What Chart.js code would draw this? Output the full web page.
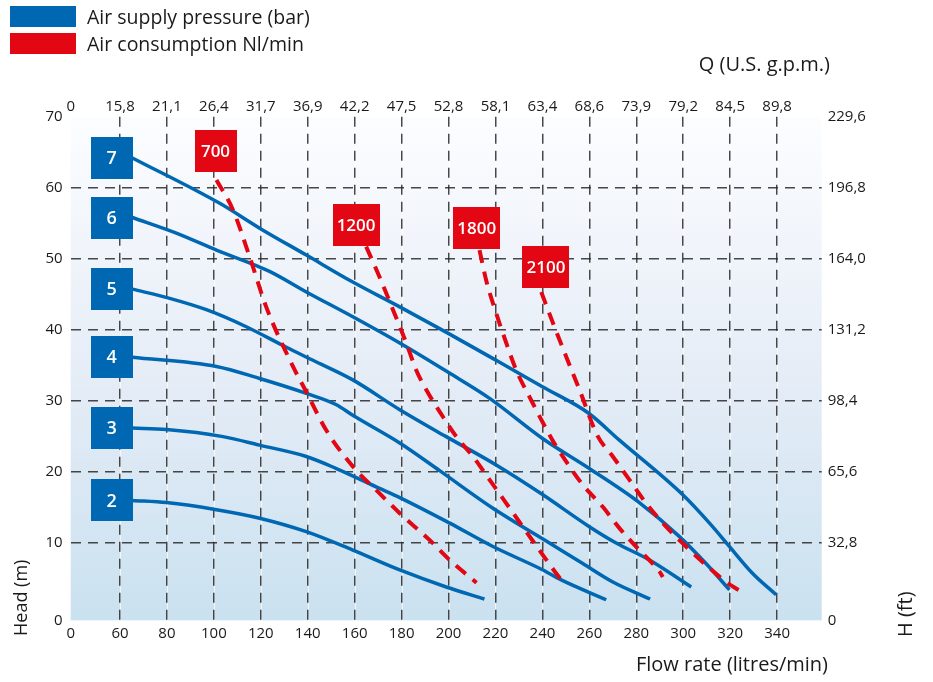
<!DOCTYPE html>
<html>
<head>
<meta charset="utf-8">
<script src="https://cdn.jsdelivr.net/npm/chart.js@4"></script>
<style>
  body { margin: 0; background: #fff; font-family: 'Open Sans', sans-serif; }
  #wrap { position: relative; width: 933px; height: 682px; }
  .key { position: absolute; left: 10px; height: 21px; display: flex; align-items: center; }
  .key span.sw { width: 66px; height: 21px; display: inline-block; }
  .key span.tx { margin-left: 11px; font-size: 19.5px; color: #1a1a1a; white-space: nowrap; }
</style>
</head>
<body>
<div id="wrap">
  <div class="key" style="top:6px"><span class="sw" style="background:#0068b3"></span><span class="tx">Air supply pressure (bar)</span></div>
  <div class="key" style="top:33px"><span class="sw" style="background:#e30613"></span><span class="tx">Air consumption Nl/min</span></div>
  <canvas id="myChart" width="933" height="682"></canvas>
</div>
<script>
// axis ticks
const flowTicks = [60, 80, 100, 120, 140, 160, 180, 200, 220, 240, 260, 280, 300, 320, 340];
const gpmLabels = ['15,8', '21,1', '26,4', '31,7', '36,9', '42,2', '47,5', '52,8', '58,1', '63,4', '68,6', '73,9', '79,2', '84,5', '89,8'];
const headTicks = [10, 20, 30, 40, 50, 60, 70];
const ftLabels = ['32,8', '65,6', '98,4', '131,2', '164,0', '196,8', '229,6'];

// air supply pressure curves (bar), flow l/min vs head m
const bar7Flow = [65.3, 102.5, 119.5, 139.4, 159.2, 179.2, 199.7, 220.1, 240.2, 259.7, 272.8, 299.8, 311.2, 319.7, 329.6, 339.6];
const bar7Head = [64.2, 57.8, 54.3, 50.5, 46.7, 43.2, 39.5, 35.7, 31.9, 28.2, 24.4, 16.7, 12.7, 9.4, 5.6, 2.6];
const bar6Flow = [65.3, 84.0, 101.1, 123.7, 139.4, 159.2, 179.2, 199.7, 217.5, 240.2, 260.0, 281.3, 298.4, 309.7, 319.7];
const bar6Head = [55.8, 53.6, 51.2, 48.2, 45.3, 41.8, 38.1, 34.0, 30.3, 24.6, 20.4, 15.6, 10.8, 7.0, 3.3];
const bar5Flow = [65.3, 81.2, 96.8, 113.8, 130.9, 142.0, 159.2, 179.2, 199.0, 220.3, 240.2, 260, 271.4, 285.6, 303.4];
const bar5Head = [45.7, 44.4, 42.8, 40.4, 37.5, 35.7, 32.9, 28.7, 24.9, 20.9, 16.7, 12.2, 9.9, 7.5, 3.7];
const bar4Flow = [65.3, 101.1, 119.5, 139.4, 152.2, 159.2, 179.2, 196.2, 218.9, 243.0, 257.2, 270, 285.9];
const bar4Head = [36.1, 34.8, 33.1, 31.0, 29.4, 27.9, 24.0, 20.1, 14.8, 9.9, 7.0, 4.4, 2.0];
const bar3Flow = [65.3, 79.8, 103.9, 119.5, 139.4, 152.2, 170.6, 179.2, 200.5, 218.9, 240.2, 248, 267.2];
const bar3Head = [26.1, 25.9, 24.9, 23.7, 22.1, 20.4, 17.6, 16.3, 12.7, 9.4, 6.1, 4.7, 1.9];
const bar2Flow = [65.3, 79.8, 101.1, 119.5, 139.4, 159.2, 179.2, 199.0, 215.3];
const bar2Head = [15.9, 15.6, 14.6, 13.4, 11.5, 8.9, 6.1, 3.7, 2.0];

// air consumption lines (Nl/min)
const nl700Flow = [101.1, 108.1, 115.2, 122.3, 133.7, 139.4, 147.9, 159.2, 170.6, 179.2, 192, 200.5, 211.9];
const nl700Head = [61.1, 56.9, 50.3, 43.2, 34.8, 31.2, 25.8, 20.7, 16.9, 14.1, 10.3, 7.5, 4.3];
const nl1200Flow = [164.9, 170.6, 176.3, 182.0, 186.2, 190.5, 197.6, 203.3, 210.4, 217.5, 224.6, 231.6, 238.7, 245.9, 248];
const nl1200Head = [51.7, 47.4, 42.8, 38.1, 34.3, 31.5, 27.7, 24.9, 22.1, 18.8, 15.5, 12.2, 8.9, 5.6, 4.7];
const nl1800Flow = [213.2, 216, 220.3, 224.6, 228.8, 234.5, 244.3, 250.1, 257.2, 265.7, 272.8, 281.3, 289.8, 291.3];
const nl1800Head = [51.2, 47.0, 42.3, 38.1, 34.3, 30.5, 24.4, 21.4, 18.1, 15.0, 12.0, 8.9, 5.9, 5.1];
const nl2100Flow = [239.5, 245.1, 250.1, 255.8, 263.5, 270.0, 277.1, 284.2, 292.7, 301.2, 309.7, 318.3, 326.5];
const nl2100Head = [45.3, 40.4, 36.2, 31.5, 25.0, 22.1, 18.8, 15.5, 12.2, 9.4, 6.8, 4.4, 2.7];

// box labels
const barLabels = ['7', '6', '5', '4', '3', '2'];
const barLabelFlow = 56.4;
const nlLabels = ['700', '1200', '1800', '2100'];
const nlLabelFlow = [100.7, 160.6, 212.0, 241.5];
const nlLabelHead = [65.2, 54.7, 54.3, 48.8];

const FLOW_MIN = 39, FLOW_MAX = 359, HEAD_MIN = -1, HEAD_MAX = 70;
const BLUE = '#0068b3', RED = '#e30613', FONT = "'Open Sans', sans-serif";

function pts(xs, ys) { return xs.map((x, i) => ({ x: x, y: ys[i] })); }

const barCurves = [[bar7Flow, bar7Head], [bar6Flow, bar6Head], [bar5Flow, bar5Head], [bar4Flow, bar4Head], [bar3Flow, bar3Head], [bar2Flow, bar2Head]];
const nlCurves = [[nl700Flow, nl700Head], [nl1200Flow, nl1200Head], [nl1800Flow, nl1800Head], [nl2100Flow, nl2100Head]];

const datasets = [];
nlCurves.forEach((c, i) => datasets.push({
    label: nlLabels[i] + ' Nl/min', data: pts(c[0], c[1]),
    borderColor: RED, borderWidth: 4, borderDash: [13, 9], pointRadius: 0,
    cubicInterpolationMode: 'monotone', fill: false
}));
barCurves.forEach((c, i) => datasets.push({
    label: barLabels[i] + ' bar', data: pts(c[0], c[1]),
    borderColor: BLUE, borderWidth: 3.5, pointRadius: 0,
    cubicInterpolationMode: 'monotone', fill: false
}));

// gradient behind the plot, with faint light lines under the vertical grid
const bgPlugin = {
    id: 'bg',
    beforeDraw(chart) {
        const { ctx, chartArea: a } = chart;
        const g = ctx.createLinearGradient(0, a.top, 0, a.bottom);
        g.addColorStop(0, '#fcfdff');
        g.addColorStop(0.5, '#e6edf7');
        g.addColorStop(1, '#cae1f0');
        ctx.save();
        ctx.fillStyle = g;
        ctx.fillRect(a.left, a.top, a.right - a.left, a.bottom - a.top);
        ctx.strokeStyle = 'rgba(255,255,255,0.7)';
        ctx.lineWidth = 1;
        flowTicks.forEach(v => {
            const px = Math.round(chart.scales.x.getPixelForValue(v)) + 0.5;
            ctx.beginPath();
            ctx.moveTo(px, a.top);
            ctx.lineTo(px, a.bottom);
            ctx.stroke();
        });
        ctx.restore();
    }
};

function box(ctx, cx, cy, w, h, color, text, font) {
    ctx.fillStyle = color;
    ctx.fillRect(Math.round(cx - w / 2), Math.round(cy - h / 2), w, h);
    ctx.fillStyle = '#fff';
    ctx.font = font;
    ctx.textAlign = 'center';
    ctx.textBaseline = 'middle';
    ctx.fillText(text, cx, cy + 1);
}

// numbered boxes and axis titles
const labelPlugin = {
    id: 'labels',
    afterDatasetsDraw(chart) {
        const ctx = chart.ctx, xs = chart.scales.x, ys = chart.scales.y;
        ctx.save();
        barLabels.forEach((t, i) => {
            box(ctx, xs.getPixelForValue(barLabelFlow), ys.getPixelForValue(barCurves[i][1][0]), 42, 42, BLUE, t, '600 18px ' + FONT);
        });
        nlLabels.forEach((t, i) => {
            ctx.font = '600 17px ' + FONT;
            const w = Math.max(42, Math.round(ctx.measureText(t).width + 8));
            box(ctx, xs.getPixelForValue(nlLabelFlow[i]), ys.getPixelForValue(nlLabelHead[i]), w, 42, RED, t, '600 17px ' + FONT);
        });
        ctx.restore();
    },
    afterDraw(chart) {
        const ctx = chart.ctx;
        ctx.save();
        ctx.fillStyle = '#1a1a1a';
        ctx.font = '20px ' + FONT;
        ctx.textBaseline = 'middle';
        ctx.textAlign = 'right';
        ctx.fillText('Q (U.S. g.p.m.)', 830, 65);
        ctx.fillText('Flow rate (litres/min)', 828, 665);
        ctx.textAlign = 'left';
        ctx.font = '18px ' + FONT;
        ctx.translate(22, 636);
        ctx.rotate(-Math.PI / 2);
        ctx.fillText('Head (m)', 0, 0);
        ctx.restore();
        ctx.save();
        ctx.fillStyle = '#1a1a1a';
        ctx.font = '20px ' + FONT;
        ctx.textBaseline = 'middle';
        ctx.textAlign = 'left';
        ctx.translate(906, 637);
        ctx.rotate(-Math.PI / 2);
        ctx.fillText('H (ft)', 0, 0);
        ctx.restore();
    }
};

const gridColor = (ctx) => {
    const v = ctx.tick ? ctx.tick.value : 0;
    return (v === FLOW_MIN || v === HEAD_MIN || v === HEAD_MAX) ? 'rgba(0,0,0,0)' : 'rgba(40,40,40,0.85)';
};
const tickFont = { family: FONT, size: 15 };

new Chart(document.getElementById('myChart').getContext('2d'), {
    type: 'line',
    data: { datasets: datasets },
    options: {
        responsive: false,
        animation: false,
        layout: { padding: 0 },
        plugins: { legend: { display: false }, tooltip: { enabled: false } },
        scales: {
            x: {
                type: 'linear', position: 'bottom', min: FLOW_MIN, max: FLOW_MAX,
                afterBuildTicks: (s) => { s.ticks = [FLOW_MIN].concat(flowTicks).map(v => ({ value: v })); },
                afterFit: (s) => { s.height = 61.7; },
                ticks: { font: tickFont, color: '#1a1a1a', padding: 4, maxRotation: 0, autoSkip: false,
                    callback: (v) => v === FLOW_MIN ? '0' : String(v) },
                grid: { color: gridColor, lineWidth: 1.5, drawTicks: false },
                border: { display: false, dash: [10, 7] }
            },
            x2: {
                type: 'linear', position: 'top', min: FLOW_MIN, max: FLOW_MAX,
                afterBuildTicks: (s) => { s.ticks = [FLOW_MIN].concat(flowTicks).map(v => ({ value: v })); },
                afterFit: (s) => { s.height = 116.8; },
                ticks: { font: tickFont, color: '#1a1a1a', padding: 1, maxRotation: 0, autoSkip: false,
                    callback: (v) => v === FLOW_MIN ? '0' : gpmLabels[flowTicks.indexOf(v)] },
                grid: { display: false, drawTicks: false },
                border: { display: false }
            },
            y: {
                type: 'linear', position: 'left', min: HEAD_MIN, max: HEAD_MAX,
                afterBuildTicks: (s) => { s.ticks = [HEAD_MIN].concat(headTicks).map(v => ({ value: v })); },
                afterFit: (s) => { s.width = 70.7; },
                ticks: { font: tickFont, color: '#1a1a1a', padding: 8,
                    callback: (v) => v === HEAD_MIN ? '0' : String(v) },
                grid: { color: gridColor, lineWidth: 1.5, drawTicks: false },
                border: { display: false, dash: [10, 7] }
            },
            y2: {
                type: 'linear', position: 'right', min: HEAD_MIN, max: HEAD_MAX,
                afterBuildTicks: (s) => { s.ticks = [HEAD_MIN].concat(headTicks).map(v => ({ value: v })); },
                afterFit: (s) => { s.width = 111.3; },
                ticks: { font: tickFont, color: '#1a1a1a', padding: 6,
                    callback: (v) => v === HEAD_MIN ? '0' : ftLabels[headTicks.indexOf(v)] },
                grid: { display: false, drawTicks: false },
                border: { display: false }
            }
        }
    },
    plugins: [bgPlugin, labelPlugin]
});
</script>
</body>
</html>
